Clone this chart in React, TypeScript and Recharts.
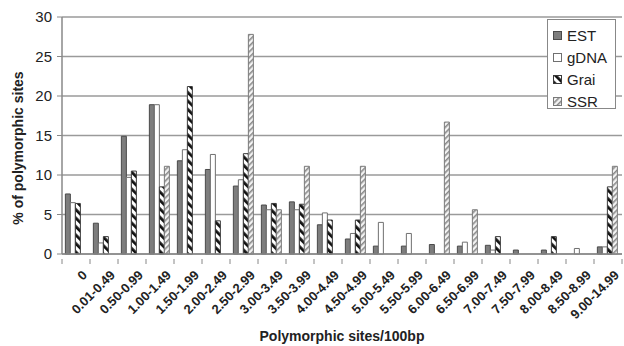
import React from "react";
import { Bar, BarChart, CartesianGrid, Label, XAxis, YAxis } from "recharts";

const categories = [
  "0", "0.01-0.49", "0.50-0.99", "1.00-1.49", "1.50-1.99", "2.00-2.49", "2.50-2.99",
  "3.00-3.49", "3.50-3.99", "4.00-4.49", "4.50-4.99", "5.00-5.49", "5.50-5.99",
  "6.00-6.49", "6.50-6.99", "7.00-7.49", "7.50-7.99", "8.00-8.49", "8.50-8.99", "9.00-14.99",
];
const est = [7.6, 3.9, 14.9, 18.9, 11.8, 10.7, 8.6, 6.2, 6.6, 3.7, 1.9, 1.0, 1.0, 1.2, 1.0, 1.1, 0.5, 0.5, 0, 0.9];
const gdna = [6.5, 1.4, 9.7, 18.9, 13.2, 12.6, 9.4, 5.6, 5.6, 5.2, 2.6, 4.0, 2.6, 0, 1.5, 0.5, 0, 0, 0.7, 0.9];
const grai = [6.4, 2.2, 10.5, 8.5, 21.2, 4.2, 12.7, 6.4, 6.3, 4.3, 4.3, 0, 0, 0, 0, 2.2, 0, 2.2, 0, 8.5];
const ssr = [0, 0, 0, 11.1, 0, 0, 27.8, 5.6, 11.1, 0, 11.1, 0, 0, 16.7, 5.6, 0, 0, 0, 0, 11.1];
const yTicks = [0, 5, 10, 15, 20, 25, 30];

const data = categories.map((name, i) => ({
  name,
  EST: est[i],
  gDNA: gdna[i],
  Grai: grai[i],
  SSR: ssr[i],
}));

const series = [
  { key: "EST", fill: "#7d7d7d", stroke: "#4a4a4a" },
  { key: "gDNA", fill: "#ffffff", stroke: "#707070" },
  { key: "Grai", fill: "url(#graiHatch)", stroke: "#3a3a3a" },
  { key: "SSR", fill: "url(#ssrHatch)", stroke: "#7a7a7a" },
];

const font = "'Liberation Sans', Arial, sans-serif";

function Patterns() {
  return (
    <defs>
      <pattern id="graiHatch" width="6" height="6" patternUnits="userSpaceOnUse" patternTransform="rotate(-45)">
        <rect width="6" height="6" fill="#ffffff" />
        <rect width="2.8" height="6" fill="#111111" />
      </pattern>
      <pattern id="ssrHatch" width="4" height="4" patternUnits="userSpaceOnUse" patternTransform="rotate(45)">
        <rect width="4" height="4" fill="#f4f4f4" />
        <rect width="1.6" height="4" fill="#8a8a8a" />
      </pattern>
    </defs>
  );
}

function CategoryTick(props: any) {
  const { x, y, payload, index } = props;
  const half = 14;
  const ax = x + 5;
  const ay = y + 7;
  return (
    <g>
      <line x1={x - half} x2={x - half} y1={y - 3} y2={y + 2} stroke="#888" />
      {index === categories.length - 1 && (
        <line x1={x + half} x2={x + half} y1={y - 3} y2={y + 2} stroke="#888" />
      )}
      <text
        x={ax}
        y={ay}
        textAnchor="end"
        transform={`rotate(-45, ${ax}, ${ay})`}
        fontSize={13}
        fontWeight="bold"
        fontFamily={font}
        fill="#222"
        dominantBaseline="hanging"
      >
        {payload.value}
      </text>
    </g>
  );
}

function YTitle(props: any) {
  const { viewBox } = props;
  const cx = viewBox.x + 23;
  const cy = 148;
  return (
    <text
      x={cx}
      y={cy}
      transform={`rotate(-90, ${cx}, ${cy})`}
      textAnchor="middle"
      fontSize={14}
      fontWeight="bold"
      fontFamily={font}
      fill="#222"
    >
      % of polymorphic sites
    </text>
  );
}

function LegendBox() {
  return (
    <div
      style={{
        position: "absolute",
        left: 547,
        top: 19,
        width: 69,
        height: 90,
        background: "#fff",
        border: "1px solid #888",
        fontFamily: font,
        fontSize: 15,
        color: "#222",
        boxSizing: "border-box",
        padding: "4px 0 0 5px",
      }}
    >
      {series.map((s) => (
        <div key={s.key} style={{ display: "flex", alignItems: "center", height: 22 }}>
          <svg width={9} height={9} style={{ marginRight: 5 }}>
            <rect x={0.5} y={0.5} width={8} height={8} fill={s.fill} stroke={s.stroke} />
          </svg>
          <span>{s.key}</span>
        </div>
      ))}
    </div>
  );
}

export default function App() {
  return (
    <div style={{ position: "relative", width: 624, height: 346, background: "#fff" }}>
      <style>{"body{margin:0}"}</style>
      <BarChart
        width={624}
        height={346}
        data={data}
        margin={{ top: 17, right: 2, left: 0, bottom: 0 }}
        barCategoryGap="12%"
        barGap={0}
      >
        <Patterns />
        <CartesianGrid vertical={false} stroke="#9a9a9a" strokeWidth={1.5} />
        <XAxis
          dataKey="name"
          interval={0}
          height={92}
          tickLine={false}
          axisLine={{ stroke: "#888", strokeWidth: 1.5 }}
          tick={<CategoryTick />}
        >
          <Label
            value="Polymorphic sites/100bp"
            position="insideBottom"
            offset={5}
            style={{ fontFamily: font, fontSize: 14, fontWeight: "bold", fill: "#222" }}
          />
        </XAxis>
        <YAxis
          width={62}
          domain={[0, 30]}
          ticks={yTicks}
          tickSize={5}
          tickMargin={5}
          tickLine={{ stroke: "#888" }}
          axisLine={{ stroke: "#888", strokeWidth: 1.5 }}
          tick={{ fontFamily: font, fontSize: 15, fill: "#222" }}
        >
          <Label content={<YTitle />} />
        </YAxis>
        {series.map((s) => (
          <Bar
            key={s.key}
            dataKey={s.key}
            fill={s.fill}
            stroke={s.stroke}
            strokeWidth={1}
            isAnimationActive={false}
          />
        ))}
      </BarChart>
      <LegendBox />
    </div>
  );
}
